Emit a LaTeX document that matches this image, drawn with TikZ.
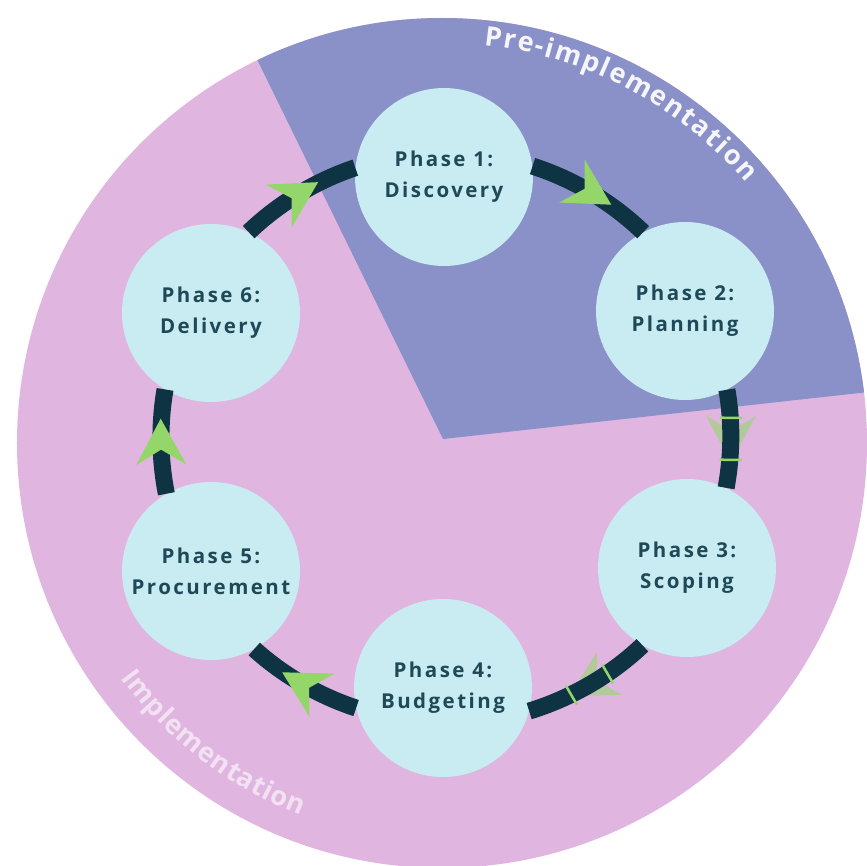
\documentclass[tikz,border=0pt]{standalone}
\usepackage{fontspec}
\setmainfont{Open Sans}
\newfontfamily\phasefont[LetterSpace=12]{Open Sans}
\newfontfamily\bandfont{Open Sans}
\usetikzlibrary{decorations.markings,decorations.text}
\definecolor{pinkbg}{HTML}{E0B6E0}
\definecolor{sectorblue}{HTML}{8A90C8}
\definecolor{phasefill}{HTML}{C8ECF2}
\definecolor{connector}{HTML}{0E3343}
\definecolor{arrowgreen}{HTML}{94D66A}
\definecolor{phasetext}{HTML}{1F4957}
\tikzset{
  phase/.style={circle, fill=phasefill, draw=none, minimum size=178pt, inner sep=0pt,
    align=center, text=phasetext, font=\phasefont\bfseries\fontsize{20.5}{31}\selectfont},
  conn/.style={draw=connector, line width=17pt, line cap=butt, looseness=0.85},
  headmark/.style={postaction={decorate, decoration={markings, mark=at position 0.5 with
    {\fill[arrowgreen] (23pt,0pt) -- (-23pt,25pt) -- (-8pt,0pt) -- (-23pt,-25pt) -- cycle;}}}},
  clasp/.style={preaction={decorate, decoration={markings, mark=at position 0.5 with
    {\fill[arrowgreen, opacity=0.6] (23pt,0pt) -- (-23pt,25pt) -- (-8pt,0pt) -- (-23pt,-25pt) -- cycle;}}},
    postaction={decorate, decoration={markings, mark=at position 0.5 with
    {\draw[arrowgreen, line width=2.5pt] (-21pt,-11pt) -- (-21pt,11pt) (21pt,-11pt) -- (21pt,11pt);}}}},
}
\begin{document}
\begin{tikzpicture}[x=1pt,y=1pt]
\useasboundingbox (-442,-422) rectangle (425,443);
\fill[pinkbg] (0,0) circle[radius=425pt];
\begin{scope}
  \clip (0,0) circle[radius=425pt];
  \fill[sectorblue] (1,4) -- +(6.3:700pt) -- +(61:900pt) -- +(116.1:700pt) -- cycle;
\end{scope}
\begin{scope}[opacity=0.92]
\path[decorate, decoration={text along path,
   text={|\bandfont\bfseries\fontsize{27}{27}\selectfont\color{white}|Pre-implementation},
   text align=fit to path}]
   (84:400pt) arc[start angle=84, end angle=40.6, radius=400pt];
\end{scope}
\begin{scope}[opacity=0.6]
\path[decorate, decoration={text along path,
   text={|\bandfont\bfseries\fontsize{27}{27}\selectfont\color{white}|Implementation},
   text align=fit to path}]
   (216.2:398pt) arc[start angle=216.2, end angle=249.2, radius=398pt];
\end{scope}
\node[phase] (p1) at (2,266) {Phase 1:\\Discovery};
\node[phase] (p2) at (243,132) {Phase 2:\\Planning};
\node[phase] (p3) at (245,-125) {Phase 3:\\Scoping};
\node[phase] (p4) at (1,-245) {Phase 4:\\Budgeting};
\node[phase] (p5) at (-231,-128) {Phase 5:\\Procurement};
\node[phase] (p6) at (-231,130) {Phase 6:\\Delivery};
\draw[conn, headmark] (p1.7) to[out=-17.6, in=136] (p2.118);
\draw[conn, clasp] (p2.-62) to[out=-80, in=79.7] (p3.64);
\draw[conn, clasp] (p3.-120) to[out=-136.3, in=16.9] (p4.-15);
\draw[conn, headmark] (p4.193) to[out=161.7, in=-42.3] (p5.-61);
\draw[conn, headmark] (p5.120) to[out=101.3, in=260.2] (p6.-121);
\draw[conn, headmark] (p6.65) to[out=43.8, in=198.4] (p1.174);
\end{tikzpicture}
\end{document}
